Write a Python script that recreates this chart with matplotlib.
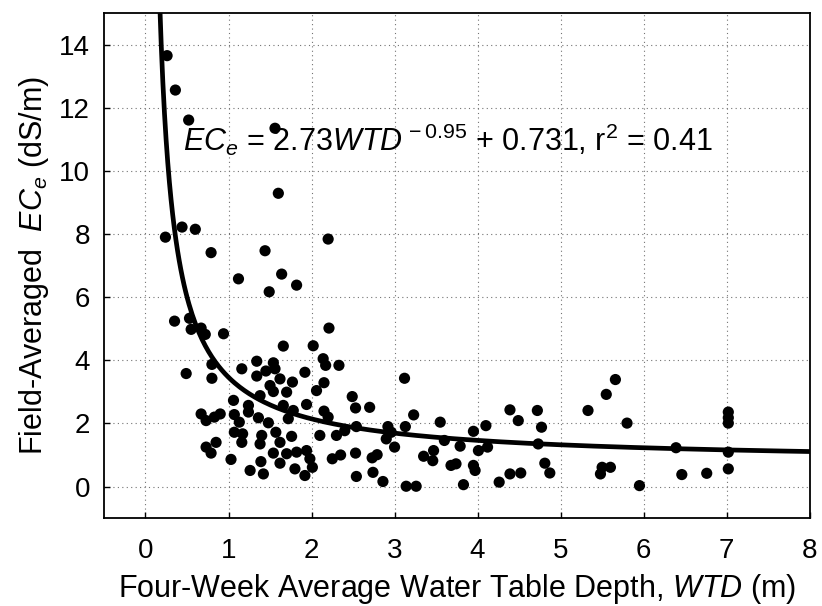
import numpy as np
import matplotlib
matplotlib.use("Agg")
import matplotlib.pyplot as plt

plt.rcParams['font.family'] = ['Liberation Sans', 'DejaVu Sans']
plt.rcParams['mathtext.fontset'] = 'custom'
plt.rcParams['mathtext.rm'] = 'Liberation Sans'
plt.rcParams['mathtext.it'] = 'Liberation Sans:italic'

# water table depth (m) and field-averaged ECe (dS/m)
wtd = [0.26, 0.36, 0.52, 1.56, 1.60, 2.20, 1.44, 1.12, 1.64, 1.82, 1.49,
       0.24, 0.44, 0.60, 0.79, 0.35, 0.53, 0.55, 0.67, 0.72, 0.94, 0.80,
       0.49, 0.80, 1.06, 0.67, 0.90, 2.21, 1.66, 2.02, 1.34, 1.16, 1.54,
       1.45, 1.56, 1.34, 1.62, 1.77, 1.92, 2.14, 2.17, 2.33, 2.15, 1.50,
       1.54, 1.70, 2.06, 1.38, 2.49, 1.24, 1.66, 1.94, 2.53, 1.24, 1.78,
       2.15, 1.07, 1.36, 1.48, 1.72, 2.20, 0.73, 0.83, 1.13, 2.54, 1.07,
       1.17, 1.57, 1.40, 1.76, 2.10, 2.30, 2.40, 1.16, 1.38, 1.62, 0.73,
       0.85, 0.79, 1.54, 1.70, 1.82, 1.94, 1.98, 2.25, 2.53, 1.03, 1.39,
       1.62, 2.01, 1.80, 1.26, 1.42, 1.92, 2.54, 2.70, 3.12, 3.23, 3.55,
       4.39, 4.49, 4.72, 4.77, 5.33, 2.92, 2.90, 3.00, 3.13, 2.96, 3.60,
       3.79, 3.95, 4.10, 4.01, 4.12, 3.47, 3.35, 3.46, 2.73, 2.79, 3.68,
       3.74, 3.95, 3.97, 4.73, 4.81, 4.87, 4.39, 4.52, 4.26, 3.83, 3.14,
       3.26, 2.74, 2.86, 5.66, 5.55, 5.80, 6.39, 7.02, 7.02, 7.02, 7.02,
       7.02, 5.48, 5.50, 5.60, 5.95, 6.46, 6.76, 2.35]
ece = [13.65, 12.56, 11.61, 11.35, 9.29, 7.84, 7.47, 6.58, 6.73, 6.38, 6.17,
       7.90, 8.22, 8.15, 7.41, 5.24, 5.33, 4.98, 5.02, 4.82, 4.84, 3.87,
       3.58, 3.43, 2.73, 2.30, 2.30, 5.02, 4.45, 4.46, 3.97, 3.73, 3.92,
       3.66, 3.73, 3.50, 3.41, 3.31, 3.62, 4.05, 3.84, 3.84, 3.29, 3.20,
       3.01, 2.99, 3.04, 2.88, 2.85, 2.57, 2.57, 2.60, 2.49, 2.36, 2.41,
       2.39, 2.28, 2.18, 2.02, 2.15, 2.20, 2.09, 2.20, 2.04, 1.90, 1.72,
       1.67, 1.72, 1.62, 1.59, 1.62, 1.62, 1.77, 1.40, 1.35, 1.40, 1.25,
       1.40, 1.06, 1.06, 1.04, 1.09, 1.14, 0.88, 0.88, 1.06, 0.86, 0.79,
       0.74, 0.61, 0.56, 0.51, 0.40, 0.35, 0.32, 2.51, 3.43, 2.27, 2.04,
       2.43, 2.09, 2.41, 1.88, 2.41, 1.90, 1.51, 1.25, 1.90, 1.72, 1.46,
       1.28, 1.75, 1.93, 1.14, 1.25, 1.14, 0.96, 0.82, 0.91, 1.01, 0.67,
       0.72, 0.67, 0.51, 1.35, 0.74, 0.43, 0.40, 0.43, 0.14, 0.06, 0.01,
       0.01, 0.45, 0.16, 3.39, 2.92, 2.01, 1.23, 2.36, 2.18, 2.01, 1.09,
       0.56, 0.40, 0.61, 0.61, 0.03, 0.38, 0.42, 1.00]

# fitted power curve from the figure's equation
fit_a, fit_b, fit_c = 2.73, -0.95, 0.731

x_ticks = [0, 1, 2, 3, 4, 5, 6, 7, 8]
y_ticks = [0, 2, 4, 6, 8, 10, 12, 14]

fig = plt.figure(figsize=(8.22, 6.06), dpi=100)
ax = fig.add_axes([0.1265, 0.145, 0.8585, 0.8335])

xf = np.linspace(0.15, 8, 400)
ax.plot(xf, fit_a * xf ** fit_b + fit_c, color='black', lw=3.4, zorder=2)
ax.scatter(wtd, ece, s=65, color='black', edgecolors='none', zorder=3)

ax.set_xlim(-0.5, 8)
ax.set_ylim(-1, 15)
ax.set_xticks(x_ticks)
ax.set_yticks(y_ticks)
ax.grid(True, color='0.45', linestyle=(0, (1, 3)), lw=0.8)
ax.tick_params(direction='in', length=4, width=1, labelsize=20)
ax.tick_params(axis='x', pad=14)
ax.tick_params(axis='y', pad=10)
for sp in ax.spines.values():
    sp.set_linewidth(1.3)

ax.text(0.45, 11.0, r'$EC_e$ = 2.73$WTD$$^{\,-0.95}$ + 0.731, r$^2$ = 0.41',
        fontsize=22, va='center', ha='left')

ax.set_xlabel(r'Four-Week Average Water Table Depth, $WTD$ (m)', fontsize=22, labelpad=6)
ax.set_ylabel(r'Field-Averaged  $EC_e$ (dS/m)', fontsize=22, labelpad=6)

fig.savefig('out.png', dpi=100)
